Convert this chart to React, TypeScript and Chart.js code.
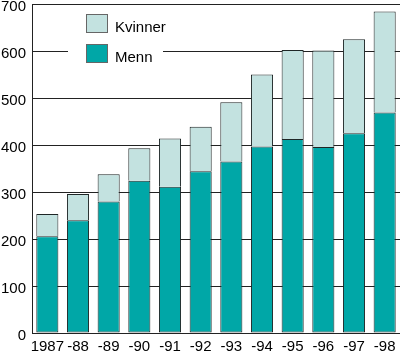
import React, { useEffect, useRef } from "react";
import { Chart, registerables } from "chart.js";

Chart.register(...registerables);

const categories = ["1987", "-88", "-89", "-90", "-91", "-92", "-93", "-94", "-95", "-96", "-97", "-98"];
const menn = [206, 240, 280, 324, 311, 344, 365, 397, 413, 396, 425, 469];
const kvinner = [47, 56, 58, 69, 103, 95, 126, 153, 189, 205, 200, 215];
const yTicks = [0, 100, 200, 300, 400, 500, 600, 700];

const MENN_COLOR = "#00A7A7";
const KVINNER_COLOR = "#C3E2E0";
const BORDER = "#1e2626";
const FONT = "'Liberation Sans', Arial, Helvetica, sans-serif";

const legendPlugin = {
  id: "customLegend",
  afterDraw(chart: any) {
    const ctx = chart.ctx;
    ctx.save();
    ctx.fillStyle = "#ffffff";
    ctx.fillRect(68, 10, 95, 58);
    const items = [
      { label: "Kvinner", color: KVINNER_COLOR, y: 14 },
      { label: "Menn", color: MENN_COLOR, y: 44 },
    ];
    for (const it of items) {
      ctx.fillStyle = it.color;
      ctx.fillRect(86, it.y, 22, 19);
      ctx.strokeStyle = "#666";
      ctx.lineWidth = 1;
      ctx.strokeRect(86.5, it.y + 0.5, 21, 18);
      ctx.fillStyle = "#000";
      ctx.font = `15px ${FONT}`;
      ctx.textBaseline = "alphabetic";
      ctx.textAlign = "left";
      ctx.fillText(it.label, 115, it.y + 18);
    }
    ctx.restore();
  },
};

export default function App() {
  const ref = useRef<HTMLCanvasElement | null>(null);
  useEffect(() => {
    if (!ref.current) return;
    const chart = new Chart(ref.current, {
      type: "bar",
      data: {
        labels: categories,
        datasets: [
          {
            label: "Menn",
            data: menn,
            backgroundColor: MENN_COLOR,
            borderColor: BORDER,
            borderWidth: 1,
            borderSkipped: false,
            barPercentage: 0.72,
            categoryPercentage: 1,
          },
          {
            label: "Kvinner",
            data: kvinner,
            backgroundColor: KVINNER_COLOR,
            borderColor: BORDER,
            borderWidth: { top: 1, left: 1, right: 1, bottom: 0 },
            borderSkipped: false,
            barPercentage: 0.72,
            categoryPercentage: 1,
          },
        ],
      },
      options: {
        responsive: false,
        animation: false,
        devicePixelRatio: 1,
        layout: { padding: { top: 4, right: 0, left: 0, bottom: 0 } },
        plugins: { legend: { display: false }, tooltip: { enabled: false } },
        scales: {
          x: {
            stacked: true,
            grid: { display: false, drawTicks: false },
            border: { display: true, color: "#222", width: 1 },
            ticks: {
              color: "#000",
              font: { family: FONT, size: 15 },
              padding: 5,
              maxRotation: 0,
              autoSkip: false,
            },
            afterFit(scale: any) {
              scale.height = 20;
              scale.paddingLeft = 0;
              scale.paddingRight = 0;
            },
          },
          y: {
            stacked: true,
            min: 0,
            max: 700,
            afterBuildTicks(scale: any) {
              scale.ticks = yTicks.map((v) => ({ value: v }));
            },
            grid: { color: "#222", lineWidth: 1, drawTicks: false },
            border: { display: true, color: "#222", width: 1 },
            ticks: {
              color: "#000",
              font: { family: FONT, size: 15 },
              padding: 6,
              labelOffset: 3,
            },
            afterFit(scale: any) {
              scale.width = 32;
              scale.paddingTop = 0;
              scale.paddingBottom = 0;
            },
          },
        },
      },
      plugins: [legendPlugin],
    });
    return () => chart.destroy();
  }, []);
  return (
    <div style={{ position: "fixed", left: 0, top: 0, width: 400, height: 353, background: "#fff" }}>
      <canvas ref={ref} width={400} height={353} style={{ display: "block" }} />
    </div>
  );
}
